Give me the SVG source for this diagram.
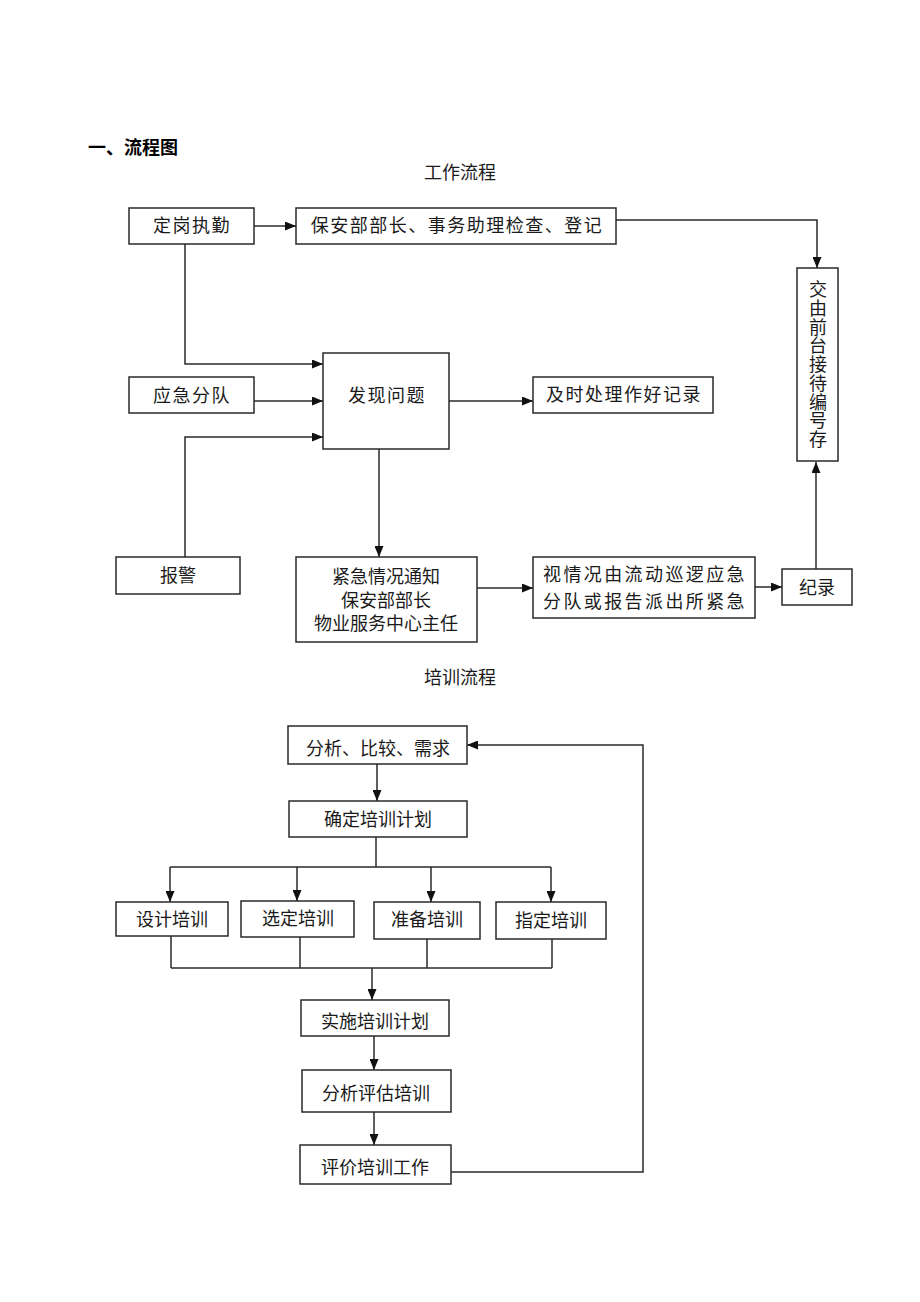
<svg xmlns="http://www.w3.org/2000/svg" width="920" height="1302" viewBox="0 0 920 1302">
<style>
.bg{fill:#ffffff}
.box{fill:#ffffff;stroke:#2a2a2a;stroke-width:1.5}
.t{font-family:"Liberation Serif","Noto Sans CJK SC",serif;font-size:18px;fill:#1a1a1a;text-anchor:middle;dominant-baseline:central}
.ls{letter-spacing:1.5px}
.ls2{letter-spacing:2.4px}
.h{font-family:"Liberation Sans","Noto Sans CJK SC",sans-serif;font-size:18px;font-weight:bold;fill:#000;dominant-baseline:central}
.c{fill:none;stroke:#2a2a2a;stroke-width:1.5}
.a{marker-end:url(#arr)}
</style>
<defs>
<marker id="arr" markerUnits="userSpaceOnUse" markerWidth="11" markerHeight="9" refX="11" refY="4.5" orient="auto">
<path d="M0,0 L11,4.5 L0,9 z" fill="#111"/>
</marker>
</defs>
<rect class="bg" x="0" y="0" width="920" height="1302"/>
<text class="h" x="88" y="148">一、流程图</text>
<text class="t" x="460" y="173">工作流程</text>
<text class="t" x="460" y="678">培训流程</text>

<g id="connectors">
<path class="c a" d="M254,226 H296"/>
<path class="c a" d="M616,220 H817 V268"/>
<path class="c a" d="M185,244 V364 H323"/>
<path class="c a" d="M254,401 H323"/>
<path class="c a" d="M185,557 V437 H323"/>
<path class="c a" d="M449,401 H533"/>
<path class="c a" d="M379,449 V557"/>
<path class="c a" d="M477,588 H533"/>
<path class="c a" d="M755,587 H782"/>
<path class="c a" d="M816,569 V462"/>

<path class="c a" d="M377,764 V801"/>
<path class="c" d="M376,837 V867"/>
<path class="c" d="M170,867 H551"/>
<path class="c a" d="M170,867 V902"/>
<path class="c a" d="M297,867 V901"/>
<path class="c a" d="M431,867 V902"/>
<path class="c a" d="M551,867 V902"/>
<path class="c" d="M171,936 V968"/>
<path class="c" d="M300,937 V968"/>
<path class="c" d="M427,939 V968"/>
<path class="c" d="M552,939 V968"/>
<path class="c" d="M171,968 H552"/>
<path class="c a" d="M372,968 V1000"/>
<path class="c a" d="M374,1036 V1070"/>
<path class="c a" d="M374,1112 V1145"/>
<path class="c a" d="M451,1172 H643 V745 H467"/>
</g>

<g id="n_dinggang"><rect class="box" x="129" y="208" width="125" height="36"/><text class="t ls" x="192" y="226">定岗执勤</text></g>
<g id="n_baoan"><rect class="box" x="296" y="208" width="320" height="36"/><text class="t ls" x="457" y="226">保安部部长、事务助理检查、登记</text></g>
<g id="n_jiaoyou"><rect class="box" x="797" y="268" width="41" height="193"/>
<text class="t" x="818"><tspan x="818" y="290">交</tspan><tspan x="818" y="308.75">由</tspan><tspan x="818" y="327.5">前</tspan><tspan x="818" y="346.25">台</tspan><tspan x="818" y="365">接</tspan><tspan x="818" y="383.75">待</tspan><tspan x="818" y="402.5">编</tspan><tspan x="818" y="421.25">号</tspan><tspan x="818" y="440">存</tspan></text></g>
<g id="n_yingji"><rect class="box" x="129" y="377" width="125" height="36"/><text class="t ls" x="192" y="396">应急分队</text></g>
<g id="n_faxian"><rect class="box" x="323" y="353" width="126" height="96"/><text class="t ls" x="387" y="396">发现问题</text></g>
<g id="n_jishi"><rect class="box" x="533" y="377" width="180" height="36"/><text class="t ls" x="624" y="395">及时处理作好记录</text></g>
<g id="n_baojing"><rect class="box" x="116" y="557" width="124" height="37"/><text class="t" x="178" y="576">报警</text></g>
<g id="n_jinji"><rect class="box" x="296" y="557" width="181" height="85"/><text class="t"><tspan x="386" y="577">紧急情况通知</tspan><tspan x="386" y="601">保安部部长</tspan><tspan x="386" y="624">物业服务中心主任</tspan></text></g>
<g id="n_shiqing"><rect class="box" x="533" y="557" width="222" height="61"/><text class="t ls2"><tspan x="645" y="575">视情况由流动巡逻应急</tspan><tspan x="645" y="602">分队或报告派出所紧急</tspan></text></g>
<g id="n_jilu"><rect class="box" x="782" y="569" width="70" height="36"/><text class="t" x="817" y="588">纪录</text></g>

<g id="n_fenxi"><rect class="box" x="288" y="726" width="179" height="38"/><text class="t" x="378" y="749">分析、比较、需求</text></g>
<g id="n_queding"><rect class="box" x="289" y="801" width="178" height="36"/><text class="t" x="378" y="820">确定培训计划</text></g>
<g id="n_sheji"><rect class="box" x="116" y="902" width="112" height="34"/><text class="t" x="172" y="920">设计培训</text></g>
<g id="n_xuanding"><rect class="box" x="241" y="901" width="113" height="36"/><text class="t" x="298" y="919">选定培训</text></g>
<g id="n_zhunbei"><rect class="box" x="374" y="902" width="106" height="37"/><text class="t" x="427" y="920">准备培训</text></g>
<g id="n_zhiding"><rect class="box" x="496" y="902" width="110" height="37"/><text class="t" x="551" y="921">指定培训</text></g>
<g id="n_shishi"><rect class="box" x="301" y="1000" width="148" height="36"/><text class="t" x="375" y="1022">实施培训计划</text></g>
<g id="n_pinggu"><rect class="box" x="302" y="1070" width="149" height="42"/><text class="t" x="376" y="1094">分析评估培训</text></g>
<g id="n_pingjia"><rect class="box" x="300" y="1145" width="151" height="39"/><text class="t" x="375" y="1168">评价培训工作</text></g>
</svg>
